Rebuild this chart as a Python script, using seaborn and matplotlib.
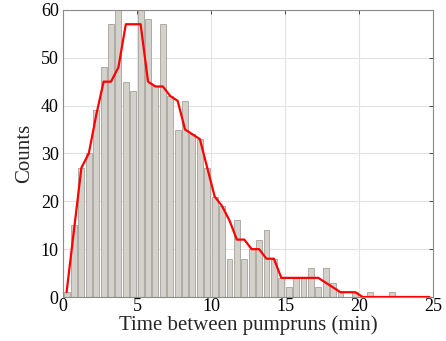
import numpy as np
import pandas as pd
import seaborn as sns
import matplotlib.pyplot as plt

# bin edges (0.5 min wide) and counts
bin_edges = np.arange(0, 25.5, 0.5)
counts = [1, 15, 27, 30, 39, 48, 57, 62, 45, 43,
          62, 58, 44, 57, 42, 35, 41, 34, 33, 27,
          21, 19, 8, 16, 8, 10, 12, 14, 8, 4,
          2, 4, 4, 6, 2, 6, 3, 1, 0, 1,
          0, 1, 0, 0, 1, 0, 0, 0, 0, 0]
# red smoothed curve, one value per bin
trend = [1, 14, 27, 30, 38, 45, 45, 48, 57, 57,
         57, 45, 44, 44, 42, 41, 35, 34, 33, 27,
         21, 19, 16, 12, 12, 10, 10, 8, 8, 4,
         4, 4, 4, 4, 4, 3, 2, 1, 1, 1,
         0, 0, 0, 0, 0, 0, 0, 0, 0, 0]

centers = (bin_edges[:-1] + bin_edges[1:]) / 2
df = pd.DataFrame({"t": centers, "n": counts, "trend": trend})

sns.set_style("white")
plt.rcParams["font.family"] = ["Liberation Serif", "DejaVu Serif"]

fig = plt.figure(figsize=(4.46, 3.41), dpi=100)
ax = fig.add_axes([0.141, 0.129, 0.830, 0.842])

sns.histplot(data=df, x="t", weights="n", binwidth=0.5, binrange=(0, 25),
             shrink=0.8, color="#d4d1ca", edgecolor="#a3a19c", linewidth=0.6,
             alpha=1, ax=ax, zorder=2)
sns.lineplot(data=df, x="t", y="trend", color="red", linewidth=1.6, ax=ax, zorder=3)

ax.set_xlim(0, 25)
ax.set_ylim(0, 60)
ax.set_xticks(range(0, 26, 5))
ax.set_yticks(range(0, 61, 10))
ax.grid(True, color="#e2e2e2", linewidth=0.8, zorder=0)
ax.set_axisbelow(True)
for s in ax.spines.values():
    s.set_visible(True)
    s.set_color("#8a8a8a")
    s.set_linewidth(0.8)
ax.tick_params(direction="in", length=3, width=0.6, colors="#333333",
               labelsize=13, top=True, right=True)
ax.tick_params(axis="x", pad=1)
ax.tick_params(axis="y", pad=3)
ax.tick_params(labelcolor="black")
ax.set_xlabel("Time between pumpruns (min)", fontsize=15, labelpad=0)
ax.set_ylabel("Counts", fontsize=15, labelpad=5)

fig.savefig("out.png", dpi=100)
